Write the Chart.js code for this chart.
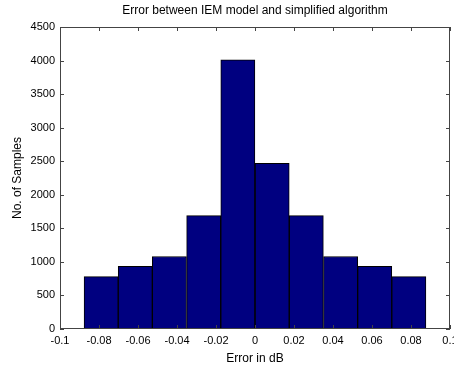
<!DOCTYPE html>
<html>
<head>
<meta charset="utf-8">
<script src="https://cdn.jsdelivr.net/npm/chart.js@4/dist/chart.umd.min.js"></script>
<style>
    html, body { margin: 0; padding: 0; background: #fff; }
    #wrap { width: 454px; height: 366px; }
</style>
</head>
<body>
<div id="wrap"><canvas id="histChart"></canvas></div>
<script>
// Histogram bins (centres in dB) and counts
const binCenters = [-0.0789, -0.0614, -0.0439, -0.0263, -0.0088, 0.0088, 0.0263, 0.0439, 0.0614, 0.0789];
const sampleCounts = [780, 935, 1080, 1690, 4010, 2470, 1690, 1080, 935, 780];
const xTicks = [-0.1, -0.08, -0.06, -0.04, -0.02, 0, 0.02, 0.04, 0.06, 0.08, 0.1];
const yTicks = [0, 500, 1000, 1500, 2000, 2500, 3000, 3500, 4000, 4500];

const fontFamily = "'Liberation Sans', Arial, sans-serif";

// MATLAB style box with inward ticks
const boxPlugin = {
    id: 'matlabBox',
    afterDraw(chart) {
        const ctx = chart.ctx;
        const a = chart.chartArea;
        const xs = chart.scales.x;
        const ys = chart.scales.y;
        const len = 4;
        ctx.save();
        ctx.strokeStyle = '#444';
        ctx.lineWidth = 1;
        ctx.strokeRect(Math.round(a.left) + 0.5, Math.round(a.top) + 0.5,
            Math.round(a.right - a.left) - 1, Math.round(a.bottom - a.top) - 1);
        ctx.beginPath();
        xTicks.forEach(v => {
            const px = Math.round(xs.getPixelForValue(v)) + 0.5;
            ctx.moveTo(px, a.bottom);
            ctx.lineTo(px, a.bottom - len);
            ctx.moveTo(px, a.top);
            ctx.lineTo(px, a.top + len);
        });
        yTicks.forEach(v => {
            const py = Math.round(ys.getPixelForValue(v)) + 0.5;
            ctx.moveTo(a.left, py);
            ctx.lineTo(a.left + len, py);
            ctx.moveTo(a.right, py);
            ctx.lineTo(a.right - len, py);
        });
        ctx.stroke();
        ctx.restore();
    }
};

const ctx = document.getElementById('histChart').getContext('2d');
new Chart(ctx, {
    type: 'bar',
    data: {
        datasets: [{
            data: binCenters.map((c, i) => ({ x: c, y: sampleCounts[i] })),
            backgroundColor: '#000080',
            borderColor: '#000000',
            borderWidth: 1,
            borderSkipped: false,
            barPercentage: 1,
            categoryPercentage: 1
        }]
    },
    options: {
        responsive: true,
        maintainAspectRatio: false,
        animation: false,
        layout: { padding: { left: 0, right: 4, top: 0, bottom: 0 } },
        plugins: {
            legend: { display: false },
            tooltip: { enabled: false },
            title: {
                display: true,
                fullSize: false,
                text: 'Error between IEM model and simplified algorithm',
                color: '#000',
                font: { family: fontFamily, size: 12, weight: 'normal' },
                padding: { top: 3, bottom: 9.6 }
            }
        },
        scales: {
            x: {
                type: 'linear',
                min: -0.1,
                max: 0.1,
                offset: false,
                afterBuildTicks: s => { s.ticks = xTicks.map(v => ({ value: v })); },
                afterFit: s => { s.height = 37; s.paddingLeft = 0; s.paddingRight = 0; },
                grid: { display: false, drawTicks: false },
                border: { display: false },
                ticks: {
                    color: '#000',
                    padding: 5,
                    maxRotation: 0,
                    autoSkip: false,
                    font: { family: fontFamily, size: 11 },
                    callback: v => String(Number(v.toFixed(2)))
                },
                title: {
                    display: true,
                    text: 'Error in dB',
                    color: '#000',
                    font: { family: fontFamily, size: 12 },
                    padding: { top: 0, bottom: 0 }
                }
            },
            y: {
                min: 0,
                max: 4500,
                afterBuildTicks: s => { s.ticks = yTicks.map(v => ({ value: v })); },
                afterFit: s => { s.width = 60; s.paddingTop = 0; s.paddingBottom = 0; },
                grid: { display: false, drawTicks: false },
                border: { display: false },
                ticks: {
                    color: '#000',
                    padding: 5,
                    font: { family: fontFamily, size: 11 },
                    callback: v => String(v)
                },
                title: {
                    display: true,
                    text: 'No. of Samples',
                    color: '#000',
                    font: { family: fontFamily, size: 12 },
                    padding: { top: 10, bottom: 0 }
                }
            }
        }
    },
    plugins: [boxPlugin]
});
</script>
</body>
</html>
